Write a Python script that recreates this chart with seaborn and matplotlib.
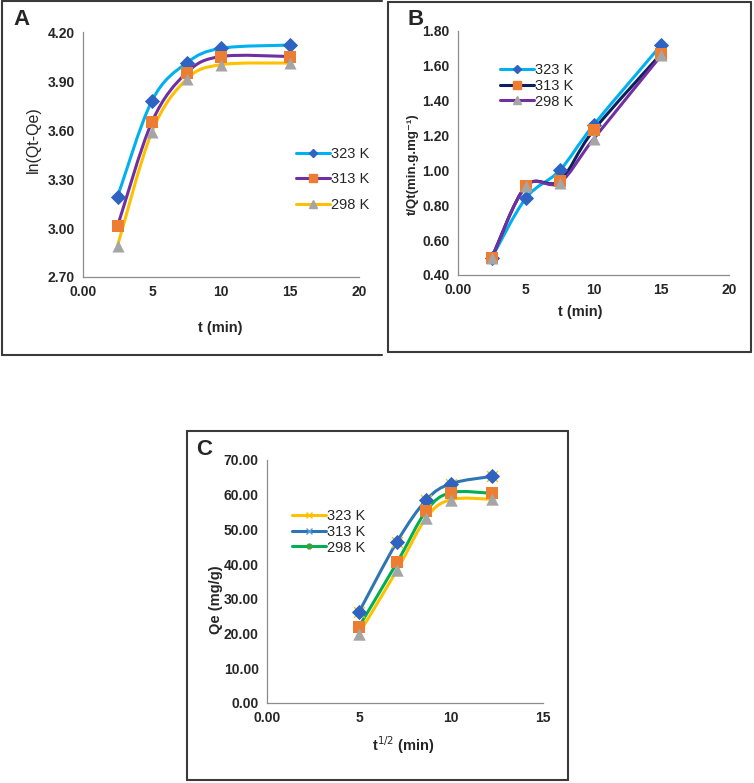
import numpy as np
import matplotlib
matplotlib.use("Agg")
import matplotlib.pyplot as plt
import seaborn as sns
from matplotlib.path import Path
from matplotlib.patches import PathPatch
from matplotlib.lines import Line2D

# ---- panel A : ln(Qt-Qe) vs t ----
t_a = [2.5, 5, 7.5, 10, 15]
lnq_323 = [3.19, 3.78, 4.01, 4.10, 4.12]
lnq_313 = [3.01, 3.65, 3.95, 4.05, 4.05]
lnq_298 = [2.89, 3.59, 3.91, 4.00, 4.01]
a_yticks = [2.70, 3.00, 3.30, 3.60, 3.90, 4.20]

# ---- panel B : t/Qt vs t ----
t_b = [2.5, 5, 7.5, 10, 15]
tq_323 = [0.50, 0.84, 1.00, 1.26, 1.72]
tq_313 = [0.50, 0.91, 0.94, 1.23, 1.67]
tq_298 = [0.50, 0.91, 0.93, 1.18, 1.66]
b_yticks = [0.40, 0.60, 0.80, 1.00, 1.20, 1.40, 1.60, 1.80]

# ---- panel C : Qe vs t^1/2 ----
sqrt_t = [5, 7.07, 8.66, 10, 12.25]
qe_313 = [26.2, 46.5, 58.5, 63.2, 65.3]
qe_298 = [22.0, 40.5, 55.4, 60.6, 60.4]
qe_323 = [20.0, 38.3, 53.4, 58.6, 58.7]
c_yticks = [0, 10, 20, 30, 40, 50, 60, 70]

ab_xticks = [0, 5, 10, 15, 20]
ab_xlabels = ["0.00", "5", "10", "15", "20"]
c_xticks = [0, 5, 10, 15]
c_xlabels = ["0.00", "5", "10", "15"]
temps = ["323 K", "313 K", "298 K"]

sns.set_style("white")
plt.rcParams["font.family"] = ["Liberation Sans", "DejaVu Sans"]

W, H = 754, 783
fig = plt.figure(figsize=(W / 100, H / 100), dpi=100)


def px_axes(l, t, r, b):
    return fig.add_axes([l / W, 1 - b / H, (r - l) / W, (b - t) / H])


def smooth_path(x, y):
    # excel style smoothed line (bezier through the points)
    p = np.column_stack([x, y]).astype(float)
    n = len(p)
    verts, codes = [p[0]], [Path.MOVETO]
    for i in range(n - 1):
        p0 = p[i - 1] if i > 0 else p[i]
        p3 = p[i + 2] if i + 2 < n else p[i + 1]
        c1 = p[i] + (p[i + 1] - p0) / 6
        c2 = p[i + 1] - (p3 - p[i]) / 6
        verts += [c1, c2, p[i + 1]]
        codes += [Path.CURVE4] * 3
    return Path(verts, codes)


def draw_series(ax, x, y, lc, marker, mc, ms):
    ax.add_patch(PathPatch(smooth_path(x, y), fill=False, edgecolor=lc,
                           lw=2.2, zorder=2, capstyle="round"))
    sns.scatterplot(x=x, y=y, marker=marker, s=ms, color=mc, edgecolor=mc,
                    linewidth=0, ax=ax, zorder=3, legend=False)


def style_axes(ax, xticks, xlabels, yticks, ylim, xlim):
    ax.set_xlim(xlim)
    ax.set_ylim(ylim)
    ax.set_xticks(xticks, xlabels)
    ax.set_yticks(yticks, [f"{v:.2f}" for v in yticks])
    for s in ["top", "right"]:
        ax.spines[s].set_visible(False)
    for s in ["left", "bottom"]:
        ax.spines[s].set_color("#8c8c8c")
        ax.spines[s].set_linewidth(0.9)
    ax.tick_params(axis="x", direction="out", length=3, width=0.8,
                   color="#8c8c8c", pad=2.5, labelsize=10)
    ax.tick_params(axis="y", direction="inout", length=6, width=0.8,
                   color="#8c8c8c", pad=3, labelsize=10)
    for lab in ax.get_xticklabels() + ax.get_yticklabels():
        lab.set_fontweight("bold")


def frame(l, t, r, b, sides="lrtb"):
    kw = dict(color="#3a3a3a", lw=1.5, transform=fig.transFigure)
    X = lambda v: v / W
    Y = lambda v: 1 - v / H
    if "l" in sides:
        fig.add_artist(Line2D([X(l), X(l)], [Y(t), Y(b)], **kw))
    if "r" in sides:
        fig.add_artist(Line2D([X(r), X(r)], [Y(t), Y(b)], **kw))
    if "t" in sides:
        fig.add_artist(Line2D([X(l), X(r)], [Y(t), Y(t)], **kw))
    if "b" in sides:
        fig.add_artist(Line2D([X(l), X(r)], [Y(b), Y(b)], **kw))


def add_legend(ax, handles, x, y, spacing):
    ax.legend(handles, temps, loc="upper left", bbox_to_anchor=(x / W, 1 - y / H),
              bbox_transform=fig.transFigure, frameon=False, fontsize=10.5,
              handlelength=2.3, handletextpad=0.12, labelspacing=spacing,
              borderpad=0, borderaxespad=0)


BLUE_D = "#2e63c2"
ORANGE = "#ed7d31"
GRAY = "#a5a5a5"

# ---------------- A ----------------
axA = px_axes(83, 32, 359, 277)
draw_series(axA, t_a, lnq_323, "#00b0f0", "D", BLUE_D, 60)
draw_series(axA, t_a, lnq_313, "#7030a0", "s", ORANGE, 70)
draw_series(axA, t_a, lnq_298, "#ffc000", "^", GRAY, 75)
style_axes(axA, ab_xticks, ab_xlabels, a_yticks, (2.70, 4.20), (0, 20))
axA.set_ylabel("ln(Qt-Qe)", fontsize=11.5, va="center")
axA.yaxis.set_label_coords(-0.181, 0.559)
axA.set_xlabel("t (min)", fontsize=10.5, fontweight="bold", va="center")
axA.xaxis.set_label_coords(0.496, -0.208)
hA = [Line2D([], [], color="#00b0f0", lw=2.2, marker="D", ms=4.5, mfc=BLUE_D, mec=BLUE_D),
      Line2D([], [], color="#7030a0", lw=2.2, marker="s", ms=6, mfc=ORANGE, mec=ORANGE),
      Line2D([], [], color="#ffc000", lw=2.2, marker="^", ms=6, mfc=GRAY, mec=GRAY)]
add_legend(axA, hA, 296, 147, 0.78)

# ---------------- B ----------------
axB = px_axes(458, 31, 729, 275)
draw_series(axB, t_b, tq_323, "#00b0f0", "D", BLUE_D, 60)
draw_series(axB, t_b, tq_313, "#0d1f5c", "s", ORANGE, 70)
draw_series(axB, t_b, tq_298, "#7030a0", "^", GRAY, 75)
style_axes(axB, ab_xticks, ab_xlabels, b_yticks, (0.40, 1.80), (0, 20))
axB.set_ylabel("t/Qt(min.g.mg⁻¹)", fontsize=9.5, fontweight="bold", va="center")
axB.yaxis.set_label_coords(-0.166, 0.455)
axB.set_xlabel("t (min)", fontsize=10.5, fontweight="bold", va="center")
axB.xaxis.set_label_coords(0.450, -0.152)
hB = [Line2D([], [], color="#00b0f0", lw=2.2, marker="D", ms=4.5, mfc=BLUE_D, mec=BLUE_D),
      Line2D([], [], color="#0d1f5c", lw=2.2, marker="s", ms=6, mfc=ORANGE, mec=ORANGE),
      Line2D([], [], color="#7030a0", lw=2.2, marker="^", ms=6, mfc=GRAY, mec=GRAY)]
add_legend(axB, hB, 500, 63, 0.12)

# ---------------- C ----------------
axC = px_axes(267, 460, 543, 703)
sns.scatterplot(x=sqrt_t, y=qe_313, marker="x", s=60, color="#ffc000",
                linewidth=1.0, ax=axC, zorder=2.5, legend=False)
draw_series(axC, sqrt_t, qe_313, "#2e75b6", "D", BLUE_D, 60)
draw_series(axC, sqrt_t, qe_298, "#00b050", "s", ORANGE, 75)
draw_series(axC, sqrt_t, qe_323, "#ffc000", "^", GRAY, 80)
style_axes(axC, c_xticks, c_xlabels, c_yticks, (0, 70), (0, 15))
axC.set_ylabel("Qe (mg/g)", fontsize=10.5, fontweight="bold", va="center")
axC.yaxis.set_label_coords(-0.185, 0.424)
axC.set_xlabel(r"t$^{1/2}$ (min)", fontsize=10.5, fontweight="bold", va="center")
axC.xaxis.set_label_coords(0.493, -0.173)
hC = [Line2D([], [], color="#ffc000", lw=2.2, marker="x", ms=5, mew=1, mec="#ffc000"),
      Line2D([], [], color="#2e75b6", lw=2.2, marker="x", ms=5, mew=1, mec="#5b9bd5"),
      Line2D([], [], color="#00b050", lw=2.2, marker="o", ms=3.5, mfc="#3aa13a", mec="#3aa13a")]
add_legend(axC, hC, 292, 509, 0.12)

# panel letters and frames
fig.text(13 / W, 1 - 25 / H, "A", fontsize=16, fontweight="bold", va="baseline")
fig.text(407 / W, 1 - 25 / H, "B", fontsize=16, fontweight="bold", va="baseline")
fig.text(196 / W, 1 - 455 / H, "C", fontsize=16, fontweight="bold", va="baseline")
frame(2, 1, 382, 355, sides="ltb")
frame(388, 2, 751, 352)
frame(187, 431, 568, 780)

fig.savefig("out.png", dpi=100)
